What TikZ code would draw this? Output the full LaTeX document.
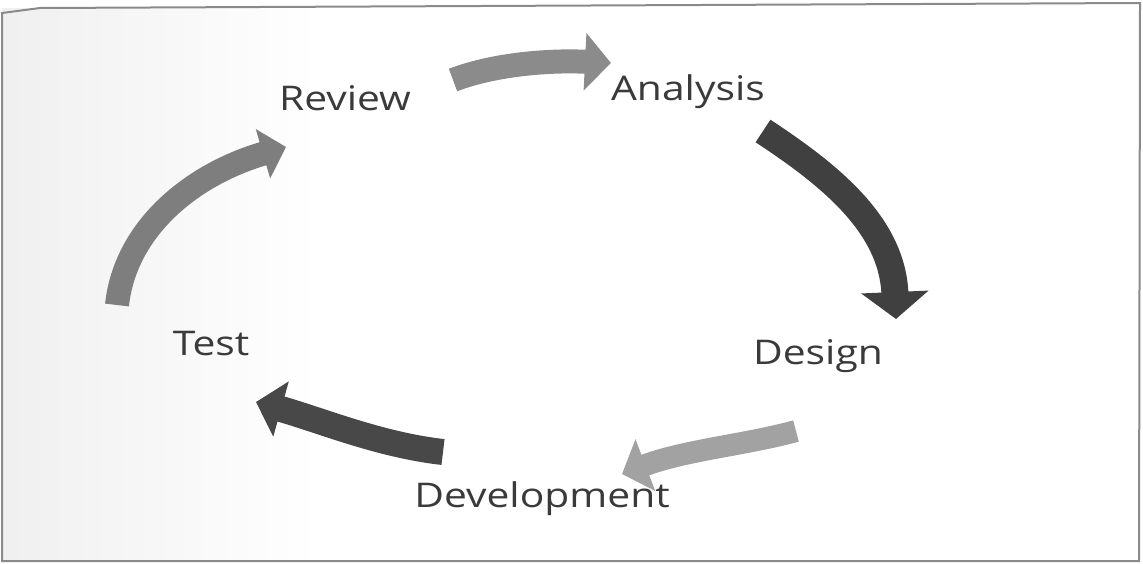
\documentclass[tikz,border=0pt]{standalone}
\usepackage{fontspec}
\newfontfamily\stagefont{Open Sans}
\usetikzlibrary{arrows.meta}
\definecolor{txtgray}{HTML}{3A3A3A}
\definecolor{framegray}{HTML}{8A8A8A}
\definecolor{arrowA}{HTML}{8B8B8B}
\definecolor{arrowB}{HTML}{404040}
\definecolor{arrowC}{HTML}{A2A2A2}
\definecolor{arrowD}{HTML}{484848}
\definecolor{arrowE}{HTML}{7E7E7E}

\begin{document}
\begin{tikzpicture}[x=1pt,y=1pt,yscale=-1,
  stage/.style={font=\stagefont\fontsize{34}{40}\selectfont, text=txtgray, inner sep=0pt, anchor=base, xscale=1.2},
  cyc/.style={line width=#1, -{Triangle[length=26pt,width=56pt]}}]
\useasboundingbox (0,0) rectangle (1143,563);

%Background and frame
\fill[white] (2,8) rectangle (1139,561);
\shade[left color=gray!12, right color=white] (2,8) rectangle (320,561);
\draw[framegray, line width=2pt] (2,13) -- (40,8) -- (1140,3) -- (1139,561) -- (2,561) -- cycle;

% Text Node
\node[stage] (review) at (345,110) {Review};
% Text Node
\node[stage] (analysis) at (688,100) {Analysis};
% Text Node
\node[stage] (design) at (818,364) {Design};
% Text Node
\node[stage] (devel) at (542,507) {Development};
% Text Node
\node[stage] (test) at (211,355) {Test};

%Arrow ends
\coordinate (rv-out) at (453,80);
\coordinate (an-in) at (611,63);
\coordinate (an-out) at (763,131);
\coordinate (ds-in) at (896,319);
\coordinate (ds-out) at (796,431);
\coordinate (dv-in) at (622,474);
\coordinate (dv-out) at (443,452);
\coordinate (ts-in) at (256,402);
\coordinate (ts-out) at (117,305);
\coordinate (rv-in) at (286,147);

%Curved Arrow: review -> analysis
\draw[cyc=24pt, draw=arrowA] (rv-out) .. controls (495,64) and (550,60) .. (an-in);
%Curved Arrow: analysis -> design
\draw[line width=27pt, draw=arrowB, -{Triangle[length=27pt,width=66pt]}] (an-out) .. controls (830,175) and (892,225) .. (ds-in);
%Curved Arrow: design -> development
\draw[line width=22pt, draw=arrowC, -{Triangle[length=25pt,width=54pt]}] (ds-out) .. controls (745,445) and (685,450) .. (dv-in);
%Curved Arrow: development -> test
\draw[cyc=26pt, draw=arrowD] (dv-out) .. controls (380,445) and (320,420) .. (ts-in);
%Curved Arrow: test -> review
\draw[line width=24pt, draw=arrowE, -{Triangle[length=24pt,width=50pt]}] (ts-out) .. controls (125,230) and (190,175) .. (rv-in);

\end{tikzpicture}
\end{document}
